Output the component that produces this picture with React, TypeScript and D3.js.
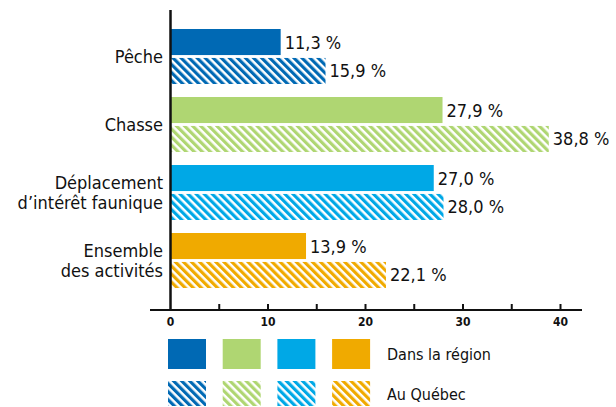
import React from "react";
import * as d3 from "d3";

const categories = ["Pêche", "Chasse", "Déplacement\nd’intérêt faunique", "Ensemble\ndes activités"];
const regionValues = [11.3, 27.9, 27.0, 13.9];
const quebecValues = [15.9, 38.8, 28.0, 22.1];
const colors = ["#0069b4", "#afd672", "#00a8e6", "#f0aa00"];
const xTicks = [0, 10, 20, 30, 40];
const minorTicks = [5, 15, 25, 35];
const seriesLabels = ["Dans la région", "Au Québec"];

const W = 616, H = 407;
const FONT = "'Liberation Sans Narrow', 'DejaVu Sans Condensed', 'Roboto', sans-serif";

const fmt = (v: number) => v.toFixed(1).replace(".", ",") + " %";

export default function App() {
  const x = d3.scaleLinear().domain([0, 40]).range([170.5, 560.5]);
  const y = d3.scaleBand<string>().domain(categories).range([26, 298]).padding(0);
  const sub = d3.scaleBand<string>().domain(["r", "q"]).range([3, 58]).paddingInner(0.1).paddingOuter(0);
  const P = 5.7;

  return (
    <svg width={W} height={H} style={{ position: "absolute", left: 0, top: 0, background: "#fff" }}>
      <defs>
        {colors.map((c, i) => (
          <pattern key={i} id={`hatch${i}`} patternUnits="userSpaceOnUse" width={P} height={P} patternTransform="rotate(-45)">
            <rect width={P} height={P} fill="#fff" />
            <rect width={P * 0.56} height={P} fill={c} />
          </pattern>
        ))}
      </defs>
      {categories.map((cat, i) => {
        const y0 = y(cat)!;
        const yr = y0 + sub("r")!;
        const yq = y0 + sub("q")!;
        const bh = sub.bandwidth();
        const lines = cat.split("\n");
        const cy = y0 + 58 / 2 + 1;
        const lh = 20;
        return (
          <g key={cat}>
            <rect x={x(0)} y={yr} width={x(regionValues[i]) - x(0)} height={bh} fill={colors[i]} />
            <rect x={x(0)} y={yq} width={x(quebecValues[i]) - x(0)} height={bh} fill={`url(#hatch${i})`} />
            <text x={x(regionValues[i]) + 4} y={yr + bh / 2} dominantBaseline="central" fontFamily={FONT} fontSize={18} fill="#111">{fmt(regionValues[i])}</text>
            <text x={x(quebecValues[i]) + 4} y={yq + bh / 2} dominantBaseline="central" fontFamily={FONT} fontSize={18} fill="#111">{fmt(quebecValues[i])}</text>
            {lines.map((ln, k) => (
              <text key={k} x={163} y={cy + (k - (lines.length - 1) / 2) * lh} textAnchor="end" dominantBaseline="central" fontFamily={FONT} fontSize={18} fill="#111">{ln}</text>
            ))}
          </g>
        );
      })}
      <line x1={170.5} x2={170.5} y1={10} y2={311} stroke="#111" strokeWidth={2.5} />
      <line x1={150} x2={582} y1={310} y2={310} stroke="#111" strokeWidth={2} />
      {[...xTicks.slice(1), ...minorTicks].map((t) => (
        <line key={t} x1={x(t)} x2={x(t)} y1={304} y2={310} stroke="#111" strokeWidth={2} />
      ))}
      {xTicks.map((t) => (
        <text key={t} x={x(t)} y={322} textAnchor="middle" dominantBaseline="central" fontFamily={FONT} fontSize={12} fontWeight="bold" fill="#111">{t}</text>
      ))}
      {colors.map((c, i) => {
        const lx = 168 + i * 54.7;
        return (
          <g key={i}>
            <rect x={lx} y={339} width={38} height={30} fill={c} />
            <rect x={lx} y={381} width={38} height={25} fill={`url(#hatch${i})`} />
          </g>
        );
      })}
      <text x={387} y={354} dominantBaseline="central" fontFamily={FONT} fontSize={16} fill="#111">{seriesLabels[0]}</text>
      <text x={387} y={394} dominantBaseline="central" fontFamily={FONT} fontSize={16} fill="#111">{seriesLabels[1]}</text>
    </svg>
  );
}
